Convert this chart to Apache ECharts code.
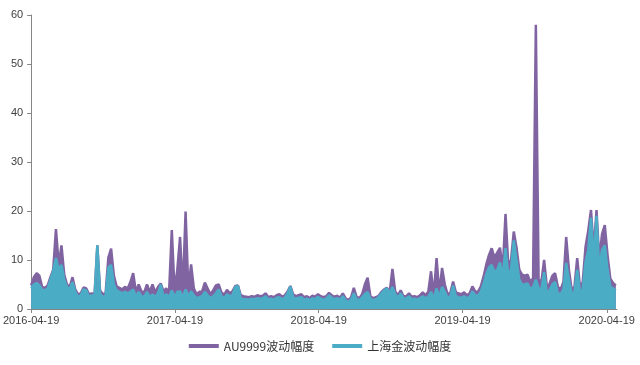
<!DOCTYPE html>
<html>
<head>
<meta charset="utf-8">
<script src="https://cdn.jsdelivr.net/npm/echarts@6/dist/echarts.min.js"></script>
<style>html,body{margin:0;padding:0;background:#fff}#c{width:640px;height:365px}</style>
</head>
<body>
<div id="c"></div>
<script>
// weekly samples starting 2016-04-19
const startDate = '2016-04-19';
const stepDays = 7;
const axisEnd = '2020-05-15';
const tickLabels = ['2016-04-19', '2017-04-19', '2018-04-19', '2019-04-19', '2020-04-19'];
const seriesNames = ['AU9999波动幅度', '上海金波动幅度'];

const au9999 = [
4.8,6.5,7.3,6.8,4.5,4.3,4.8,6.5,8,16.3,
9,13,7,5,4.5,6.5,4,3,3.2,4.4,
4.2,3,3.2,3,13,3.8,3,3.2,10.5,12.3,
6.8,4.6,4.3,4,4.5,4.2,5.5,7.3,3.5,5,
3.6,3.4,5,3.5,5,3.4,4.5,5.2,3.6,4.2,
3.2,16.1,3.8,8,14.7,3.5,19.9,4,9.1,4.2,
3,3.5,3.6,5.4,4.2,3,3.8,4.8,5,3.4,
2.9,3.9,3.2,3.6,4.7,4.8,2.8,2.6,2.5,2.4,
2.6,2.5,2.8,2.6,2.7,3.2,2.4,2.6,2.4,2.8,
3,2.5,2.8,3.6,4.7,3,2.6,2.8,3,2.4,
2.6,2.2,2.7,2.5,3,2.6,2.4,2.6,3.3,2.8,
2.5,2.7,2.3,3.2,2.2,1.8,2.4,4.3,2.5,2.2,
3,5,6.4,2.6,2.2,2.4,2.7,3.5,4,4.3,
3.4,8.2,3.6,2.8,3.8,2.6,2.6,3.2,2.5,2.6,
2.4,2.8,3.4,2.8,3.5,7.7,2.7,10.4,3.2,8.4,
5,3,3.3,5.6,3.4,3.2,3,3.4,2.8,3.2,
4.6,3.6,3.5,4.5,6.5,9,11,12.4,10.5,11.5,
12.5,8,19.4,9,10,15.8,12.5,8,7,6.8,
7,5.5,6.3,58,6,5.5,10,4.5,5.2,6.8,
7.3,4.5,4,5.5,14.7,8,4,4.5,10.4,4.5,
5.5,12.6,16,20.2,12,20.2,10,15.3,17.1,11,
6.2,5.3,4.8
];

const shGold = [
4.3,5,5.3,4.8,4,3.8,4.2,6,7.8,10.4,
8,9,6,4.5,4,5.5,3.5,2.5,2.8,4,
3.8,2.5,2.8,2.6,13,3,2.5,2.6,8.5,9,
5,3.8,3.5,3.2,3.5,3.2,3.5,4,2.5,3.5,
2.6,2.5,3.5,2.4,3,2.4,3.2,5,2.5,3,
2.4,3.8,2.4,3.5,3.6,2.3,4,2.6,3.6,2.8,
2.2,2.4,2.6,3.5,2.8,2.2,2.6,3.2,4,2.6,
2.2,3,2.6,2.8,4.5,4.7,2.2,2,2,1.9,
2.1,2,2.2,2.1,2.2,2.6,2,2.1,1.9,2.3,
2.4,2,2.3,3.2,4.6,2.4,2.1,2.3,2.4,1.9,
2.1,1.8,2.2,2,2.5,2.1,1.9,2.1,2.8,2.3,
2,2.2,1.9,2.6,1.8,1.4,1.9,3.2,2,1.8,
2.4,3,3.5,2.1,1.8,2,2.4,3.2,3.8,4.2,
3.2,4.5,3,2.3,3.2,2.2,2.1,2.6,2,2.1,
1.9,2.2,2.6,2.2,2.5,3.5,2.1,4.2,2.4,4.5,
3.5,2.3,2.6,4.8,2.6,2.4,2.3,2.6,2.2,2.5,
3.6,2.8,2.7,3.5,5,7,8.5,9,7.5,8,
9.5,6.5,12.4,7,8,14,10,6,5,5,
5.2,4,4.5,6,4.2,4,7.5,3.2,3.8,5,
5.5,3.2,3,4,9.4,6,3,3.5,8,3.5,
4,9.5,12,18.6,10,19,8,12,13,8,
4.5,4.2,3.8
];

function utc(s) { const p = s.split('-').map(Number); return Date.UTC(p[0], p[1] - 1, p[2]); }
const DAY = 86400000;
const t0 = utc(startDate);
function dayOf(s) { return Math.round((utc(s) - t0) / DAY); }
const tickDays = tickLabels.map(dayOf);
function pairs(vals) { return vals.map((v, i) => [i * stepDays, v]); }
function fmt(v) { const k = tickDays.indexOf(Math.round(v)); return k >= 0 ? tickLabels[k] : ''; }

const chart = echarts.init(document.getElementById('c'), null, { renderer: 'canvas' });
const colors = ['#8064A2', '#4BACC6'];
chart.setOption({
  animation: false,
  color: colors,
  grid: { left: 31, right: 23, top: 15, bottom: 56, containLabel: false },
  legend: {
    bottom: 8,
    left: 'center',
    icon: 'rect',
    itemWidth: 30,
    itemHeight: 4,
    itemGap: 18,
    textStyle: { fontFamily: 'Noto Sans CJK SC', fontSize: 12, color: '#333' },
    data: seriesNames
  },
  xAxis: {
    type: 'value',
    min: 0,
    max: dayOf(axisEnd),
    axisLine: { onZero: false, lineStyle: { color: '#868686', width: 1 } },
    axisTick: { show: true, length: 4, lineStyle: { color: '#868686' }, customValues: tickDays },
    axisLabel: {
      customValues: tickDays,
      formatter: fmt,
      fontFamily: 'Liberation Sans', fontSize: 11, color: '#404040', margin: 6,
      hideOverlap: false
    },
    splitLine: { show: false }
  },
  yAxis: {
    type: 'value',
    min: 0, max: 60, interval: 10,
    axisLine: { show: true, lineStyle: { color: '#868686', width: 1 } },
    axisTick: { show: true, length: 4, lineStyle: { color: '#868686' } },
    axisLabel: { fontFamily: 'Liberation Sans', fontSize: 11, color: '#404040', margin: 8 },
    splitLine: { show: false }
  },
  series: [
    {
      name: seriesNames[0], type: 'line', data: pairs(au9999),
      showSymbol: false, symbol: 'none',
      lineStyle: { width: 2.5, color: colors[0] },
      areaStyle: { color: colors[0], opacity: 1 }
    },
    {
      name: seriesNames[1], type: 'line', data: pairs(shGold),
      showSymbol: false, symbol: 'none',
      lineStyle: { width: 2.5, color: colors[1] },
      areaStyle: { color: colors[1], opacity: 1 }
    }
  ]
});
</script>
</body>
</html>
